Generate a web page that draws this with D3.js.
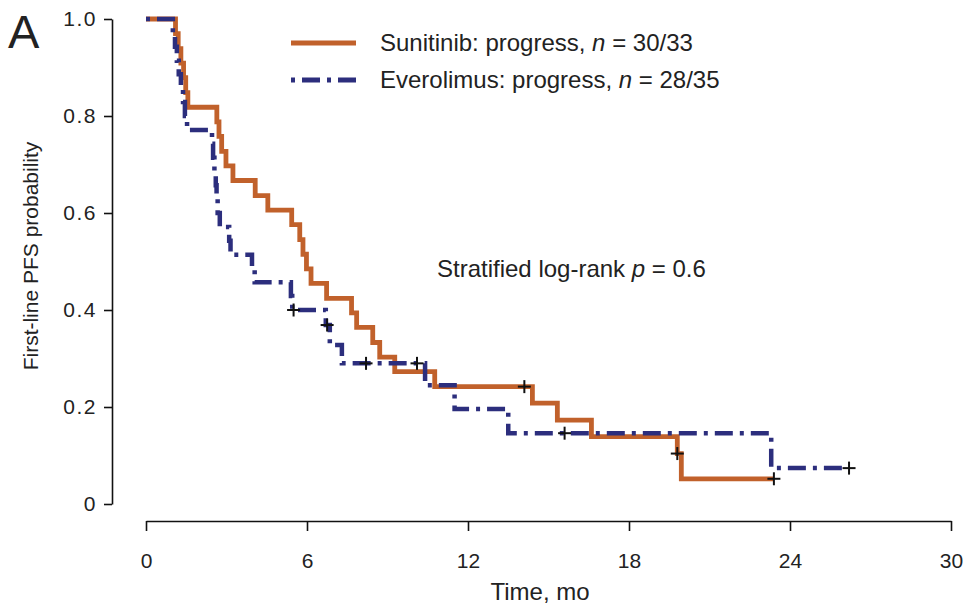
<!DOCTYPE html>
<html>
<head>
<meta charset="utf-8">
<script src="https://cdn.jsdelivr.net/npm/d3@7/dist/d3.min.js"></script>
<style>
  html, body { margin: 0; padding: 0; background: #fff; }
  svg { display: block; }
  text { font-family: "Liberation Sans", Arial, sans-serif; fill: #222; }
</style>
</head>
<body>
<svg id="chart" width="963" height="608"></svg>
<script>
// Kaplan–Meier step points (time in months, survival probability)
const sunitinibTimes = [0, 1.1, 1.2, 1.3, 1.4, 1.48, 1.56, 2.64, 2.72, 2.82, 2.98, 3.24, 4.07, 4.54, 5.43, 5.73, 5.85, 5.98, 6.15, 6.73, 7.66, 7.85, 8.45, 8.71, 9.27, 10.76, 14.4, 15.33, 16.6, 19.8, 19.95, 23.4];
const sunitinibSurv  = [1, 0.970, 0.939, 0.909, 0.879, 0.848, 0.818, 0.788, 0.758, 0.727, 0.697, 0.667, 0.636, 0.606, 0.576, 0.545, 0.515, 0.485, 0.455, 0.424, 0.394, 0.364, 0.333, 0.303, 0.273, 0.242, 0.208, 0.173, 0.139, 0.104, 0.052, 0.052];
const sunitinibCensorTimes = [14.1, 19.8, 23.4];
const sunitinibCensorSurv  = [0.242, 0.104, 0.052];

const everolimusTimes = [0, 1.0, 1.08, 1.15, 1.22, 1.3, 1.38, 1.45, 1.53, 2.46, 2.5, 2.55, 2.6, 2.63, 2.67, 2.75, 3.1, 3.15, 3.95, 4.05, 5.4, 5.45, 6.7, 6.85, 7.3, 10.4, 11.5, 13.5, 23.3, 26.2];
const everolimusSurv  = [1, 0.971, 0.943, 0.914, 0.886, 0.857, 0.829, 0.800, 0.771, 0.743, 0.714, 0.686, 0.657, 0.629, 0.600, 0.571, 0.543, 0.514, 0.486, 0.457, 0.429, 0.400, 0.369, 0.328, 0.290, 0.245, 0.196, 0.146, 0.074, 0.074];
const everolimusCensorTimes = [5.5, 6.75, 8.2, 10.1, 15.6, 26.2];
const everolimusCensorSurv  = [0.400, 0.369, 0.290, 0.290, 0.146, 0.074];

const xTicks = [0, 6, 12, 18, 24, 30];
const yTicks = [0, 0.2, 0.4, 0.6, 0.8, 1.0];
const yTickLabels = ["0", "0.2", "0.4", "0.6", "0.8", "1.0"];

const seriesNames = ["Sunitinib: progress, ", "Everolimus: progress, "];
const seriesCounts = ["30/33", "28/35"];

const ORANGE = "#c1612b";
const NAVY = "#2c2e7d";

const svg = d3.select("#chart");
const x = d3.scaleLinear().domain([0, 30]).range([146, 951]);
const y = d3.scaleLinear().domain([0, 1]).range([504, 19]);

// Axes (offset Prism style)
const yAxis = d3.axisLeft(y).tickValues(yTicks).tickSize(8).tickSizeOuter(0).tickPadding(7)
  .tickFormat((d, i) => yTickLabels[i]);
const gy = svg.append("g").attr("transform", "translate(112,0)").call(yAxis);

const xAxis = d3.axisBottom(x).tickValues(xTicks).tickSize(10).tickSizeOuter(0).tickPadding(22)
  .tickFormat(d3.format("d"));
const gx = svg.append("g").attr("transform", "translate(0,521)").call(xAxis);

[gx, gy].forEach(g => {
  g.select(".domain").attr("stroke", "#111").attr("stroke-width", 1.6);
  g.selectAll(".tick line").attr("stroke", "#111").attr("stroke-width", 1.6);
  g.selectAll(".tick text").attr("font-size", 21).attr("fill", "#222")
    .style("font-family", "'Liberation Sans', Arial, sans-serif");
});
gy.selectAll(".tick text").attr("letter-spacing", 1.5);

// Axis titles
svg.append("text").attr("x", 540).attr("y", 600).attr("text-anchor", "middle")
  .attr("font-size", 24).text("Time, mo");
svg.append("text").attr("transform", "translate(38,256) rotate(-90)").attr("text-anchor", "middle")
  .attr("font-size", 21).text("First-line PFS probability");

// Panel letter
svg.append("text").attr("x", 8).attr("y", 48).attr("font-size", 47).text("A");

// Survival curves
const line = d3.line().x(d => x(d[0])).y(d => y(d[1])).curve(d3.curveStepAfter);
const sunData = sunitinibTimes.map((t, i) => [t, sunitinibSurv[i]]);
const eveData = everolimusTimes.map((t, i) => [t, everolimusSurv[i]]);

svg.append("path").datum(sunData).attr("d", line)
  .attr("fill", "none").attr("stroke", ORANGE).attr("stroke-width", 4.8);
svg.append("path").datum(eveData).attr("d", line)
  .attr("fill", "none").attr("stroke", NAVY).attr("stroke-width", 4.5)
  .attr("stroke-dasharray", "4,7,18,7");

// Censor marks
const censors = sunitinibCensorTimes.map((t, i) => [t, sunitinibCensorSurv[i]])
  .concat(everolimusCensorTimes.map((t, i) => [t, everolimusCensorSurv[i]]));
const cg = svg.append("g");
censors.forEach(c => {
  const cx = x(c[0]), cy = y(c[1]);
  cg.append("line").attr("x1", cx - 6.5).attr("x2", cx + 6.5).attr("y1", cy).attr("y2", cy)
    .attr("stroke", "#111").attr("stroke-width", 2);
  cg.append("line").attr("x1", cx).attr("x2", cx).attr("y1", cy - 6.5).attr("y2", cy + 6.5)
    .attr("stroke", "#111").attr("stroke-width", 2);
});

// Legend
const legend = svg.append("g");
const legendColors = [ORANGE, NAVY];
const legendDash = [null, "4,7,18,7"];
seriesNames.forEach((name, i) => {
  const ly = 43 + i * 37;
  legend.append("line").attr("x1", 291).attr("x2", 356).attr("y1", ly).attr("y2", ly)
    .attr("stroke", legendColors[i]).attr("stroke-width", 4.8)
    .attr("stroke-dasharray", legendDash[i]);
  const t = legend.append("text").attr("x", 380).attr("y", ly + 8).attr("font-size", 24);
  t.append("tspan").text(name);
  t.append("tspan").attr("font-style", "italic").text("n");
  t.append("tspan").text(" = " + seriesCounts[i]);
});

// Test annotation
const ann = svg.append("text").attr("x", 437).attr("y", 277).attr("font-size", 24);
ann.append("tspan").text("Stratified log-rank ");
ann.append("tspan").attr("font-style", "italic").text("p");
ann.append("tspan").text(" = 0.6");
</script>
</body>
</html>
